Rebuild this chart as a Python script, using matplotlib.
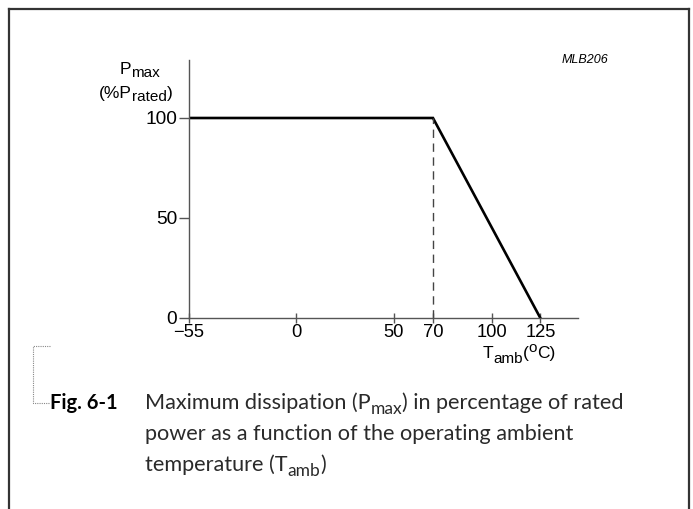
import matplotlib
matplotlib.use("Agg")
import matplotlib.pyplot as plt
from matplotlib.lines import Line2D

# derating curve
temps = [-55, 70, 125]
power = [100, 100, 0]
knee_temp = 70

x_ticks = [-55, 0, 50, 70, 100, 125]
x_ticklabels = ["\u221255", "0", "50", "70", "100", "125"]
y_ticks = [0, 50, 100]

caption_head = "Fig. 6-1"
# (text, kind) pieces for each caption line, kind 1 = subscript
caption_lines = [
    [("Maximum dissipation (P", 0), ("max", 1), (") in percentage of rated", 0)],
    [("power as a function of the operating ambient", 0)],
    [("temperature (T", 0), ("amb", 1), (")", 0)],
]

W, H = 693, 509
fig = plt.figure(figsize=(W / 100, H / 100), dpi=100)
renderer = fig.canvas.get_renderer()


def fx(px):
    return px / W


def fy(py):
    return 1 - py / H


def rich_text(x0, base, pieces, size, family, color="black", sub_scale=0.88,
              sub_drop=3, sup_rise=6, align="left"):
    """one line of normal (0) / subscript (1) / superscript (2) pieces,
    x0 and baseline in pixels from top-left"""
    arts = []
    for txt, kind in pieces:
        s = size if kind == 0 else size * sub_scale
        t = fig.text(0, 0, txt, fontsize=s, family=family, color=color,
                     ha="left", va="baseline")
        arts.append((t, kind))
    widths = [t.get_window_extent(renderer).width for t, _ in arts]
    total = sum(widths)
    x = x0 - total / 2 if align == "center" else x0
    for (t, kind), w in zip(arts, widths):
        dy = 0 if kind == 0 else (sub_drop if kind == 1 else -sup_rise)
        t.set_position((fx(x), fy(base + dy)))
        x += w


ax = fig.add_axes([fx(189), fy(318), fx(578) - fx(189), fy(60) - fy(318)])
ax.set_xlim(-55, 144.3)
ax.set_ylim(0, 129)

ax.plot(temps, power, color="black", lw=1.9, solid_joinstyle="miter")
ax.plot([knee_temp, knee_temp], [0, power[0]], color="#444444", lw=1.0,
        dashes=(6, 4))

for s in ["top", "right"]:
    ax.spines[s].set_visible(False)
for s in ["left", "bottom"]:
    ax.spines[s].set_color("#555555")
    ax.spines[s].set_linewidth(1.0)

ax.set_xticks(x_ticks)
ax.set_xticklabels(x_ticklabels)
ax.set_yticks(y_ticks)
ax.tick_params(direction="inout", length=7, width=1.0, color="#555555",
               labelcolor="black", pad=1, labelfontfamily="Liberation Sans")
ax.tick_params(axis="x", labelsize=13.2)
ax.tick_params(axis="y", direction="out", length=7, pad=1.5, labelsize=13.8)

lab = "Liberation Sans"
rich_text(140, 74, [("P", 0), ("max", 1)], 12.5, lab, align="center")
rich_text(136, 98, [("(%P", 0), ("rated", 1), (")", 0)], 12.5, lab,
          align="center")
rich_text(519, 358, [("T", 0), ("amb", 1), ("(", 0), ("o", 2), ("C)", 0)],
          12.5, lab, align="center", sub_drop=5, sup_rise=6)
fig.text(fx(585), fy(60), "MLB206", ha="center", va="center",
         family=lab, style="italic", fontsize=9)

# page frame
fc = "#333333"
fig.add_artist(Line2D([fx(8.5), fx(8.5)], [0, fy(8.5)], color=fc, lw=1.6))
fig.add_artist(Line2D([fx(8.5), fx(688.5)], [fy(8.5), fy(8.5)], color=fc,
                      lw=1.6))
fig.add_artist(Line2D([fx(688.5), fx(688.5)], [fy(8.5), 0], color=fc,
                      lw=1.6))

# dotted caption bracket
fig.add_artist(Line2D([fx(50), fx(32.5), fx(32.5), fx(50)],
                      [fy(346), fy(346), fy(403), fy(403)],
                      color="#888888", lw=0.8, ls=(0, (1, 1))))

fig.text(fx(50), fy(403), caption_head, ha="left", va="center",
         family="Lato", fontweight="bold", fontsize=14.5)
for i, pieces in enumerate(caption_lines):
    rich_text(145, 409 + 31 * i, pieces, 15.6, "Lato", color="#2a2a2a",
              sub_scale=0.8, sub_drop=5)

fig.savefig("out.png", dpi=100)
